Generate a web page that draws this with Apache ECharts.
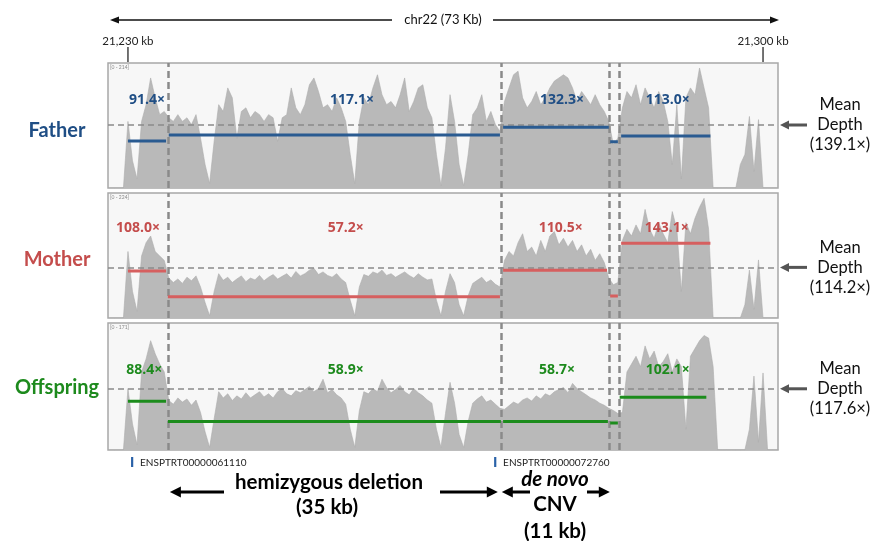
<!DOCTYPE html>
<html><head><meta charset="utf-8">
<script src="https://cdn.jsdelivr.net/npm/echarts@6/dist/echarts.min.js"></script>
<style>html,body{margin:0;padding:0;background:#fff}#c{width:874px;height:541px}</style>
</head><body><div id="c"></div>
<script>
// ---------- data ----------
const samples = ['Father', 'Mother', 'Offspring'];
const rangeLabels = ['[0 - 214]', '[0 - 224]', '[0 - 171]'];
const meanDepth = [139.1, 114.2, 117.6];
const meanDepthText = ['(139.1×)', '(114.2×)', '(117.6×)'];
const axisMaxDepth = [276, 282, 244];
const xMinKb = 21227.8, xMaxKb = 21301.65;
const tickKb = [21230, 21300];
const tickLabels = ['21,230 kb', '21,300 kb'];
const covStartKb = 21228, covStepKb = 0.5;
const fatherCov = [0,0,0,0,147,60,20,147,184,243,199,162,169,155,147,162,147,155,140,162,110,52,10,103,184,169,221,199,110,169,177,155,169,162,147,162,155,103,155,162,221,177,162,184,228,243,213,177,184,169,199,177,147,74,10,147,199,184,221,250,206,184,191,177,206,243,169,191,221,228,177,155,74,5,88,206,147,52,5,74,162,177,206,147,169,140,125,191,221,250,258,199,177,191,213,184,199,221,236,243,250,243,221,191,213,199,184,206,184,169,147,96,110,177,213,199,228,184,221,199,177,213,191,147,52,184,20,199,221,206,265,221,177,0,0,0,0,0,0,52,74,158,37,151,0,0,0,0];
const motherCov = [0,0,0,0,150,60,15,140,170,185,150,140,130,90,80,88,78,92,84,95,70,35,5,60,100,85,92,80,88,95,82,90,86,96,84,92,98,88,94,100,90,105,95,100,108,112,98,104,96,92,100,88,80,40,5,70,98,94,104,100,108,96,100,92,98,104,96,90,100,92,86,88,40,5,60,100,80,30,5,50,78,85,92,80,86,76,70,130,150,140,170,190,150,160,140,175,150,185,195,165,180,160,175,150,165,140,155,130,145,125,90,75,80,175,200,185,210,190,245,200,180,215,190,170,240,200,60,215,190,225,250,270,200,0,0,0,0,0,0,0,30,108,20,131,0,0,0,0];
const offspringCov = [0,0,0,0,118,50,10,150,175,210,185,165,150,95,88,100,92,98,86,96,72,35,5,60,112,100,108,95,104,98,110,100,106,112,102,108,100,112,118,108,104,114,110,116,122,112,118,136,110,116,106,100,88,40,5,75,112,108,118,112,136,120,110,116,124,112,106,118,110,104,96,90,40,5,70,130,90,30,5,55,90,98,104,92,96,88,80,78,85,92,88,96,100,94,104,98,108,104,112,116,120,110,128,118,112,106,100,96,90,86,80,76,70,72,150,165,180,160,200,175,190,160,170,185,150,175,160,40,180,195,210,220,215,160,0,0,0,0,0,0,0,40,142,15,148,0,0,0,0];
const breakpointsKb = [21234.4, 21271.1, 21283.0, 21284.2];
const segStartKb = [[21230.0, 21234.5, 21271.35, 21283.15, 21284.36],
                    [21230.0, 21234.4, 21271.35, 21283.15, 21284.36],
                    [21230.0, 21234.4, 21271.35, 21283.15, 21284.2]];
const segEndKb   = [[21234.2, 21271.0, 21283.0, 21284.0, 21294.2],
                    [21234.2, 21271.0, 21282.8, 21284.0, 21294.2],
                    [21234.2, 21271.1, 21282.9, 21284.0, 21293.75]];
const fatherSegDepth = [104, 117.1, 134, 102, 114.8];
const motherSegDepth = [106, 48, 108, 49.6, 168.5];
const offspringSegDepth = [93.5, 54.8, 54.8, 51.7, 101.3];
const fatherLabels = ['91.4×', '117.1×', '132.3×', '113.0×'];
const motherLabels = ['108.0×', '57.2×', '110.5×', '143.1×'];
const offspringLabels = ['88.4×', '58.9×', '58.7×', '102.1×'];
const labelKb = [[21232.1, 21254.7, 21277.85, 21289.5],
                 [21231.1, 21254.0, 21277.7, 21289.4],
                 [21231.8, 21254.0, 21277.3, 21289.5]];
const labelDepth = [194, 203, 153];
const geneKb = [21230.45, 21270.47];
const geneNames = ['ENSPTRT00000061110', 'ENSPTRT00000072760'];

// ---------- styling ----------
const FONT = 'Lato, "Open Sans", sans-serif';
const labelColors = ['#1f4e85', '#c44d4c', '#1d8a1d'];
const segColors = ['#2a5b91', '#d65f5f', '#1c8c1c'];
const gridTops = [63, 193, 323];
const gridHeights = [125, 125, 127];
const covs = [fatherCov, motherCov, offspringCov];
const segDepths = [fatherSegDepth, motherSegDepth, offspringSegDepth];
const segLabels = [fatherLabels, motherLabels, offspringLabels];

const grids = [], xAxes = [], yAxes = [], series = [];
for (let i = 0; i < 3; i++) {
  grids.push({left: 108, right: 96, top: gridTops[i], height: gridHeights[i], show: true,
    backgroundColor: '#f7f7f7', borderColor: '#a8a8a8', borderWidth: 1.5, containLabel: false});
  const xa = {type: 'value', gridIndex: i, min: xMinKb, max: xMaxKb, show: i === 0,
    splitLine: {show: false}, axisLine: {show: false}, axisTick: {show: false}};
  if (i === 0) {
    Object.assign(xa, {position: 'top',
      axisLabel: {show: true, customValues: tickKb, margin: 16, fontSize: 11.5, color: '#222', fontFamily: FONT,
        formatter: v => tickLabels[tickKb.indexOf(v)] || ''}});
  }
  xAxes.push(xa);
  yAxes.push({type: 'value', gridIndex: i, min: 0, max: axisMaxDepth[i], show: false, splitLine: {show: false}});

  series.push({type: 'line', xAxisIndex: i, yAxisIndex: i, silent: true, showSymbol: false, z: 2,
    data: covs[i].map((v, k) => [covStartKb + k * covStepKb, v]),
    lineStyle: {width: 0.6, color: '#acacac'}, areaStyle: {color: '#b9b9b9', opacity: 1},
    markLine: {symbol: 'none', silent: true, label: {show: false}, animation: false,
      data: breakpointsKb.map(b => ({xAxis: b, lineStyle: {type: [7, 4], color: '#8a8a8a', width: 2.5}}))
        .concat([{yAxis: meanDepth[i], lineStyle: {type: [6, 4], color: '#8a8a8a', width: 1.5}}])}});

  const segData = [];
  for (let s = 0; s < segStartKb[i].length; s++) {
    segData.push([segStartKb[i][s], segDepths[i][s]]);
    segData.push([segEndKb[i][s], segDepths[i][s]]);
    segData.push([segEndKb[i][s], '-']);
  }
  series.push({type: 'line', xAxisIndex: i, yAxisIndex: i, silent: true, showSymbol: false, z: 5,
    connectNulls: false, data: segData, lineStyle: {width: 3, color: segColors[i], cap: 'butt'}});
}

const chart = echarts.init(document.getElementById('c'));
chart.setOption({animation: false, grid: grids, xAxis: xAxes, yAxis: yAxes, series: series});

// ---------- annotations ----------
function arrow(x1, x2, y, w, hl, hw, color) {
  const d = x2 > x1 ? 1 : -1;
  return [
    {type: 'line', shape: {x1: x1, y1: y, x2: x2 - d * hl * 0.8, y2: y}, style: {stroke: color, lineWidth: w}},
    {type: 'polygon', shape: {points: [[x2, y], [x2 - d * hl, y - hw / 2], [x2 - d * hl, y + hw / 2]]}, style: {fill: color}}
  ];
}
const px = kb => chart.convertToPixel({xAxisIndex: 0}, kb);
const g = [];
// top chromosome arrow + ticks
g.push(...arrow(392, 110, 20, 1.3, 9, 7, '#111'));
g.push(...arrow(493, 779, 20, 1.3, 9, 7, '#111'));
g.push({type: 'text', style: {text: 'chr22 (73 Kb)', x: 443, y: 20, align: 'center', verticalAlign: 'middle',
  fontSize: 13, fill: '#111', fontFamily: FONT}});
for (let k = 0; k < tickKb.length; k++) {
  const tx = px(tickKb[k]);
  g.push({type: 'line', shape: {x1: tx, y1: 47, x2: tx, y2: 62}, style: {stroke: '#444', lineWidth: 1.5}});
}
for (let i = 0; i < 3; i++) {
  const ym = chart.convertToPixel({yAxisIndex: i}, meanDepth[i]);
  g.push(...arrow(807, 780, ym, 3, 9, 9, '#555'));
  g.push({type: 'text', style: {text: 'Mean\nDepth\n' + meanDepthText[i], x: 840, y: ym, align: 'center',
    verticalAlign: 'middle', fontSize: 16.5, lineHeight: 20, fill: '#111', fontFamily: FONT}});
  g.push({type: 'text', style: {text: samples[i], x: 57, y: [131, 260, 388][i], align: 'center', verticalAlign: 'middle',
    fontSize: 20, fontWeight: 'bold', fill: labelColors[i], fontFamily: FONT}});
  g.push({type: 'text', z: 20, style: {text: rangeLabels[i], x: 110, y: gridTops[i] + 2, fontSize: 5, fill: '#888', fontFamily: FONT}});
  for (let k = 0; k < labelKb[i].length; k++) {
    const p = chart.convertToPixel({xAxisIndex: i, yAxisIndex: i}, [labelKb[i][k], labelDepth[i]]);
    g.push({type: 'text', z: 20, style: {text: segLabels[i][k], x: p[0], y: p[1], align: 'center', verticalAlign: 'middle',
      fontSize: 14, fontWeight: 'bold', fill: labelColors[i], fontFamily: '"Open Sans", Lato, sans-serif'}});
  }
}
// genes
for (let k = 0; k < geneKb.length; k++) {
  const gx = px(geneKb[k]);
  g.push({type: 'rect', shape: {x: gx - 1, y: 457, width: 2.2, height: 10}, style: {fill: '#2a62a8'}});
  g.push({type: 'text', style: {text: geneNames[k], x: gx + 8, y: 463, verticalAlign: 'middle', fontSize: 10,
    fill: '#222', fontFamily: FONT}});
}
// bottom annotations
const b0 = px(breakpointsKb[0]), b1 = px(breakpointsKb[1]), b2 = px(breakpointsKb[2]);
g.push(...arrow(224, b0 + 2, 492, 3, 11, 11, '#000'));
g.push(...arrow(440, b1 - 3, 492, 3, 11, 11, '#000'));
g.push(...arrow(530, b1 + 1, 492, 3, 11, 11, '#000'));
g.push(...arrow(587, b2 + 1, 492, 3, 11, 11, '#000'));
const bold = {fontWeight: 'bold', fontSize: 20.5, fill: '#000', fontFamily: FONT, align: 'center', verticalAlign: 'middle'};
g.push({type: 'text', style: Object.assign({text: 'hemizygous deletion', x: 329, y: 482}, bold)});
g.push({type: 'text', style: Object.assign({text: '(35 kb)', x: 327, y: 507}, bold)});
g.push({type: 'text', style: Object.assign({text: 'de novo', x: 555, y: 479, fontStyle: 'italic'}, bold)});
g.push({type: 'text', style: Object.assign({text: 'CNV', x: 555, y: 504}, bold)});
g.push({type: 'text', style: Object.assign({text: '(11 kb)', x: 555, y: 531}, bold)});
chart.setOption({graphic: g});
</script>
</body></html>
